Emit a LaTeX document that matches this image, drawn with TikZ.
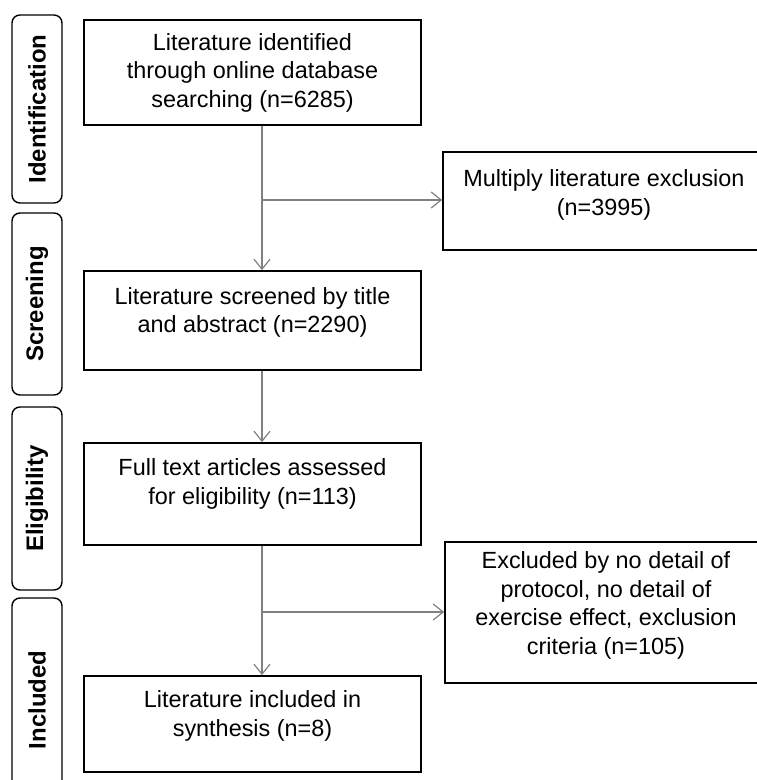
\documentclass[tikz,border=0pt]{standalone}
\usepackage{fontspec}
\setmainfont{Liberation Sans}
\usetikzlibrary{arrows.meta}

\begin{document}
\begin{tikzpicture}[x=1bp, y=-1bp,
		stagebox/.style={draw=black, line width=1.7bp, minimum width=337bp, inner sep=0pt, align=center, font=\fontsize{23.5}{28.6}\selectfont},
		exclbox/.style={stagebox, minimum width=322bp},
		raisedtext/.style={text depth=#1},
		phase/.style={draw=black, line width=1.4bp, rounded corners=8bp, rotate=90, minimum height=50bp, inner sep=0pt, font=\bfseries\fontsize{24}{28}\selectfont},
		flow/.style={draw=black!50, line width=1.2bp, -{Straight Barb[length=10bp,width=16bp]}}]
		%%%%% START %%%%%
		
		\clip (0, 0) rectangle (757, 780);
		
		% phase labels
		\node[phase, minimum width=188bp] (ident) at (37, 109) {Identification};
		\node[phase, minimum width=182bp] (screen) at (37, 304) {Screening};
		\node[phase, minimum width=183bp] (elig) at (37, 498.5) {Eligibility};
		\node[phase, minimum width=204bp] (incl) at (37, 700) {Included};
		
		% main column
		\node[stagebox, minimum height=105bp] (found) at (252.5, 72.5) {Literature identified\\through online database\\searching (n=6285)};
		\node[stagebox, minimum height=99bp, raisedtext=21bp] (screened) at (252.5, 320.5) {Literature screened by title\\and abstract (n=2290)};
		\node[stagebox, minimum height=102bp, raisedtext=25bp] (assessed) at (252.5, 494) {Full text articles assessed\\for eligibility (n=113)};
		\node[stagebox, minimum height=96bp, raisedtext=21bp] (included) at (252.5, 724) {Literature included in\\synthesis (n=8)};
		
		% exclusions
		\node[exclbox, minimum height=98bp, raisedtext=17bp] (dupes) at (604, 201) {Multiply literature exclusion\\(n=3995)};
		\node[exclbox, minimum height=141bp, raisedtext=19bp] (dropped) at (606, 612.5) {Excluded by no detail of\\protocol, no detail of\\exercise effect, exclusion\\criteria (n=105)};
		
		% connectors
		\coordinate (spine) at (262, 0);
		\coordinate (split1) at (262, 200);
		\coordinate (split2) at (262, 612);
		
		\draw[flow] (found.south -| spine) -- (screened.north -| spine);
		\draw[flow] (split1) -- (split1 -| dupes.west);
		\draw[flow] (screened.south -| spine) -- (assessed.north -| spine);
		\draw[flow] (assessed.south -| spine) -- (included.north -| spine);
		\draw[flow] (split2) -- (split2 -| dropped.west);
		
		%%%%% END %%%%%
	\end{tikzpicture}
\end{document}
